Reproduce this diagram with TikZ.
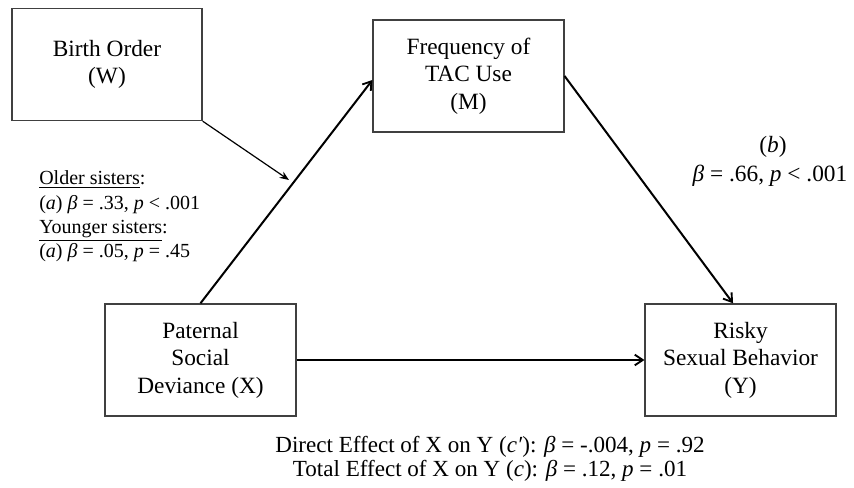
\documentclass[tikz,border=0pt]{standalone}
\usepackage{fontspec}
\setmainfont{Liberation Serif}
\usetikzlibrary{arrows.meta}
\begin{document}
\begin{tikzpicture}[x=0.75pt,y=-0.75pt,
  box/.style={draw=black!75,line width=1.1pt,minimum width=143pt,minimum height=84pt,
    inner sep=0pt,align=center,font=\fontsize{17.5pt}{20.6pt}\selectfont},
  mainarrow/.style={line width=1.5pt,-{Straight Barb[length=6pt,width=8pt,line width=1.4pt]}},
  modarrow/.style={line width=0.9pt,-{Stealth[length=7pt,width=5.5pt]}},
  biglab/.style={inner sep=0pt,anchor=base,font=\fontsize{17.5pt}{21pt}\selectfont},
  botlab/.style={inner sep=0pt,anchor=base,text height=11.5pt,text depth=3.5pt,font=\fontsize{17.3pt}{21pt}\selectfont},
  smalllab/.style={inner sep=0pt,anchor=base west,font=\fontsize{15pt}{18pt}\selectfont}]
\useasboundingbox (0,0) rectangle (854,488);

\node[box,minimum width=142.5pt] (B) at (107,64.5) {Birth Order\\(W)};
\node[box] (F) at (468.5,76) {Frequency of\\TAC Use\\(M)};
\node[box] (P) at (200.5,360) {Paternal\\Social\\Deviance (X)};
\node[box] (R) at (740.5,360) {Risky\\Sexual Behavior\\(Y)};

\coordinate (mod) at (289,180);

\draw[mainarrow] (P.north) -- ([yshift=-3pt]F.west);
\draw[mainarrow] (F.east) -- ([xshift=-5.6pt]R.north);
\draw[mainarrow] (P.east) -- (R.west);
\draw[modarrow] (B.south east) -- (mod);

\node[smalllab] (l1) at (39,185) {\underline{Older sisters}:};
\node[smalllab] (l2) at (39,210) {(\textit{a}) \textit{β} = .33, \textit{p} < .001};
\node[smalllab] (l3) at (39,234) {\underline{Younger sisters}:};
\node[smalllab] (l4) at (39,258) {(\textit{a}) \textit{β} = .05, \textit{p} = .45};

\node[biglab] (b1) at (773,153) {(\textit{b})};
\node[biglab] (b2) at (770,182) {\textit{β} = .66, \textit{p} < .001};

\node[botlab] (d1) at (490,453) {Direct Effect of X on Y (\textit{c′}): \textit{β} = -.004, \textit{p} = .92};
\node[botlab] (d2) at (490,476) {Total Effect of X on Y (\textit{c}): \textit{β} = .12, \textit{p} = .01};
\end{tikzpicture}
\end{document}
